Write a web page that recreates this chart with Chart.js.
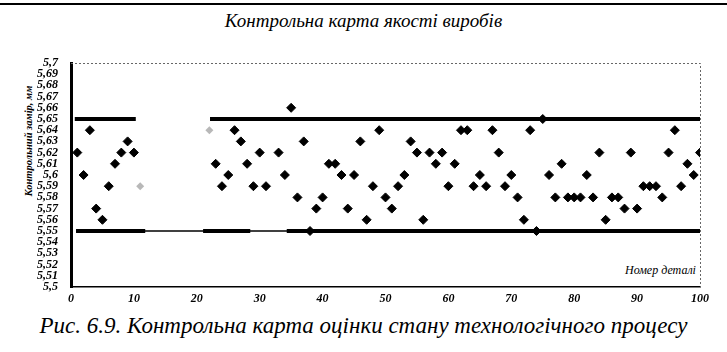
<!DOCTYPE html>
<html>
<head>
<meta charset="utf-8">
<script src="https://cdn.jsdelivr.net/npm/chart.js@4/dist/chart.umd.min.js"></script>
<style>
  body { margin: 0; background: #fff; width: 727px; height: 352px; overflow: hidden; position: relative;
         font-family: "Liberation Serif", "Times New Roman", "DejaVu Serif", serif; font-style: italic; color: #000; }
  #rule { position: absolute; left: 0; top: 3px; width: 727px; height: 2px; background: #000; }
  #title { position: absolute; left: 0; top: 10px; width: 727px; text-align: center; font-size: 19px; }
  #caption { position: absolute; left: 0; top: 313px; width: 727px; text-align: center; font-size: 23px; }
  #ytitle { position: absolute; left: -31px; top: 135px; width: 120px; height: 12px; line-height: 12px;
            text-align: center; font-size: 10.5px; font-weight: bold; transform: rotate(-90deg); }
  #xtitle { position: absolute; left: 625px; top: 263px; font-size: 12px; }
  canvas { position: absolute; left: 0; top: 0; }
</style>
</head>
<body>
<div id="rule"></div>
<div id="title">Контрольна карта якості виробів</div>
<div id="ytitle">Контрольний замір, мм</div>
<div id="xtitle">Номер деталі</div>
<div id="caption">Рис. 6.9. Контрольна карта оцінки стану технологічного процесу</div>
<canvas id="chart" width="727" height="352"></canvas>

<script>
// номери деталей і виміряні розміри
const detailNo = [
  1, 2, 3, 4, 5, 6, 7, 8, 9, 10,
  23, 24, 25, 26, 27, 28, 29, 30, 31,
  33, 34, 35, 36, 37, 38, 39, 40, 41, 42, 43, 44, 45, 46, 47, 48, 49, 50,
  51, 52, 53, 54, 55, 56, 57, 58, 59, 60, 61, 62, 63, 64, 65, 66, 67, 68, 69, 70,
  71, 72, 73, 74, 75, 76, 77, 78, 79, 80, 81, 82, 83, 84, 85, 86, 87, 88, 89, 90,
  91, 92, 93, 94, 95, 96, 97, 98, 99, 100
];
const sizes = [
  5.62, 5.60, 5.64, 5.57, 5.56, 5.59, 5.61, 5.62, 5.63, 5.62,
  5.61, 5.59, 5.60, 5.64, 5.63, 5.61, 5.59, 5.62, 5.59,
  5.62, 5.60, 5.66, 5.58, 5.63, 5.55, 5.57, 5.58, 5.61, 5.61, 5.60, 5.57, 5.60, 5.63, 5.56, 5.59, 5.64, 5.58,
  5.57, 5.59, 5.60, 5.63, 5.62, 5.56, 5.62, 5.61, 5.62, 5.59, 5.61, 5.64, 5.64, 5.59, 5.60, 5.59, 5.64, 5.62, 5.59, 5.60,
  5.58, 5.56, 5.64, 5.55, 5.65, 5.60, 5.58, 5.61, 5.58, 5.58, 5.58, 5.60, 5.58, 5.62, 5.56, 5.58, 5.58, 5.57, 5.62, 5.57,
  5.59, 5.59, 5.59, 5.58, 5.62, 5.64, 5.59, 5.61, 5.60, 5.62
];
// ледь помітні (вицвілі на скані) точки
const fadedNo = [11, 22];
const fadedSizes = [5.59, 5.64];

// контрольні межі
const upperLimit = 5.65;
const lowerLimit = 5.55;
const upperSegments = [[0.6, 10.3], [22.1, 100]];
const lowerSegments = [[0.8, 11.8], [21, 28.5], [34.3, 100]];
const lowerThin = [0.8, 100];

const xTicks = [0, 10, 20, 30, 40, 50, 60, 70, 80, 90, 100];
const yTicks = [5.5, 5.51, 5.52, 5.53, 5.54, 5.55, 5.56, 5.57, 5.58, 5.59, 5.6,
                5.61, 5.62, 5.63, 5.64, 5.65, 5.66, 5.67, 5.68, 5.69, 5.7];

const tickFont = { family: '"Liberation Serif", "Times New Roman", serif', style: 'italic', weight: 'bold', size: 12 };

function segDatasets(segs, y, width) {
  return segs.map(s => ({
    type: 'line',
    data: [{ x: s[0], y: y }, { x: s[1], y: y }],
    borderColor: '#000',
    borderWidth: width,
    pointRadius: 0,
    borderCapStyle: 'butt'
  }));
}

const framePlugin = {
  id: 'frame',
  beforeDatasetsDraw(chart) {
    const { ctx, chartArea: a } = chart;
    ctx.save();
    ctx.strokeStyle = '#666';
    ctx.lineWidth = 1;
    ctx.setLineDash([2, 2]);
    ctx.beginPath();
    ctx.moveTo(a.left, a.top + 0.5);
    ctx.lineTo(a.right + 0.5, a.top + 0.5);
    ctx.lineTo(a.right + 0.5, a.bottom);
    ctx.stroke();
    ctx.restore();
  }
};

new Chart(document.getElementById('chart'), {
  type: 'scatter',
  data: {
    datasets: [
      {
        type: 'line',
        data: [{ x: lowerThin[0], y: lowerLimit }, { x: lowerThin[1], y: lowerLimit }],
        borderColor: '#000', borderWidth: 1.5, pointRadius: 0
      },
      ...segDatasets(upperSegments, upperLimit, 4),
      ...segDatasets(lowerSegments, lowerLimit, 4),
      {
        data: fadedNo.map((x, i) => ({ x: x, y: fadedSizes[i] })),
        pointStyle: 'rectRot', radius: 4, backgroundColor: '#b8b8b8', borderColor: '#b8b8b8', borderWidth: 0
      },
      {
        data: detailNo.map((x, i) => ({ x: x, y: sizes[i] })),
        pointStyle: 'rectRot', radius: 4.5, backgroundColor: '#000', borderColor: '#000', borderWidth: 1
      }
    ]
  },
  options: {
    responsive: false,
    animation: false,
    layout: { padding: { top: 63, right: 27, left: 0, bottom: 0 } },
    plugins: { legend: { display: false }, tooltip: { enabled: false } },
    scales: {
      x: {
        type: 'linear', min: 0, max: 100,
        grid: { display: false, drawTicks: false },
        border: { display: true, color: '#000', width: 1.5 },
        ticks: { font: tickFont, color: '#000', padding: 5, maxRotation: 0, autoSkip: false },
        afterBuildTicks: s => { s.ticks = xTicks.map(v => ({ value: v })); },
        afterFit: s => { s.height = 65; }
      },
      y: {
        type: 'linear', min: 5.5, max: 5.7,
        grid: { display: false, drawTicks: false },
        border: { display: true, color: '#000', width: 3 },
        ticks: {
          font: tickFont, color: '#000', padding: 13, autoSkip: false,
          callback: v => v.toFixed(2).replace(/0$/, '').replace('.', ',')
        },
        afterBuildTicks: s => { s.ticks = yTicks.map(v => ({ value: v })); },
        afterFit: s => { s.width = 71; }
      }
    }
  },
  plugins: [framePlugin]
});
</script>
</body>
</html>
